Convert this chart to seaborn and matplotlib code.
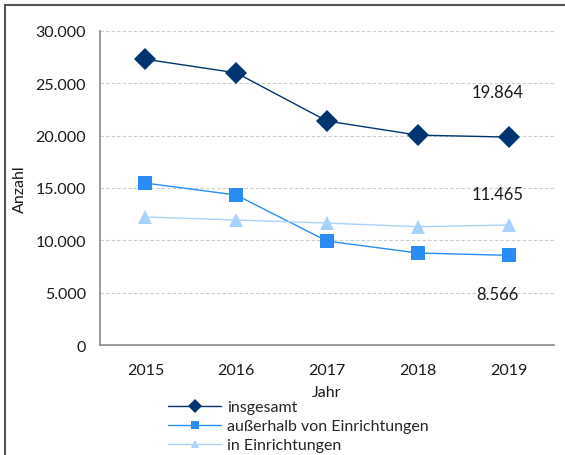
import seaborn as sns
import matplotlib.pyplot as plt
import pandas as pd
from matplotlib.patches import Rectangle
from matplotlib.ticker import FuncFormatter

years = [2015, 2016, 2017, 2018, 2019]
insgesamt = [27300, 26000, 21400, 20050, 19864]
ausserhalb = [15470, 14330, 9930, 8790, 8566]
in_einr = [12230, 11940, 11650, 11300, 11465]
names = ["insgesamt", "außerhalb von Einrichtungen", "in Einrichtungen"]
colors = ["#003572", "#2a8cf4", "#a9d1fb"]
markers = ["D", "s", "^"]
msizes = [11.5, 10.5, 10.5]

df = pd.DataFrame({"Jahr": years * 3,
                   "Anzahl": insgesamt + ausserhalb + in_einr,
                   "Reihe": [n for n in names for _ in years]})

sns.set_style("white")
plt.rcParams['font.family'] = ['Lato', 'DejaVu Sans']

fig = plt.figure(figsize=(5.65, 4.56), dpi=100)
ax = fig.add_axes([100/565, 1 - 346/456, 454/565, 314/456])

for name, c, m, ms in zip(names, colors, markers, msizes):
    sns.lineplot(data=df[df["Reihe"] == name], x="Jahr", y="Anzahl", ax=ax,
                 color=c, marker=m, markersize=ms, markeredgewidth=0,
                 linewidth=1, label=name)

# value labels for 2019
for vals, dy in [(insgesamt, 4300), (in_einr, 3000), (ausserhalb, -3700)]:
    v = vals[-1]
    ax.text(years[-1] - 0.12, v + dy, f"{v:,}".replace(",", "."),
            ha="center", va="center", fontsize=12, color="#1a1a1a")

ax.set_xlim(2014.5, 2019.5)
ax.set_ylim(0, 30000)
ax.set_yticks(range(0, 30001, 5000))
ax.yaxis.set_major_formatter(FuncFormatter(lambda v, p: f"{int(v):,}".replace(",", ".")))
ax.set_xticks(years)
ax.set_xticks([y - 0.5 for y in years] + [2019.5], minor=True)
ax.tick_params(axis="x", which="major", length=0, pad=13, labelsize=11.5, colors="#1a1a1a")
ax.tick_params(axis="x", which="minor", length=5, width=1, color="#888888", direction="out")
ax.tick_params(axis="y", length=5, width=1, color="#888888", direction="out",
               labelsize=11.5, labelcolor="#1a1a1a", pad=5)
ax.yaxis.grid(True, linestyle=(0, (3, 2)), color="#cccccc", linewidth=0.8)
ax.set_axisbelow(True)
for s in ["top", "right"]:
    ax.spines[s].set_visible(False)
for s in ["left", "bottom"]:
    ax.spines[s].set_color("#888888")
    ax.spines[s].set_linewidth(1.2)

ax.set_xlabel("Jahr", fontsize=11.5, color="#1a1a1a", labelpad=6)
ax.set_ylabel("Anzahl", fontsize=11.5, color="#1a1a1a", labelpad=6)

leg = ax.legend(loc="upper left", bbox_to_anchor=(62/454, -0.155),
                frameon=False, fontsize=11.5, handlelength=3.3, handletextpad=0.35,
                labelspacing=0.3, borderaxespad=0, markerscale=0.6)
leg.set_in_layout(False)

# outer frame (top and left edges visible)
fig.patches.append(Rectangle((5/565, -0.1), 1.2, 1 - 6/456 + 0.1,
                             transform=fig.transFigure, fill=False,
                             edgecolor="#555555", linewidth=1.5))

fig.savefig("out.png", dpi=100)
